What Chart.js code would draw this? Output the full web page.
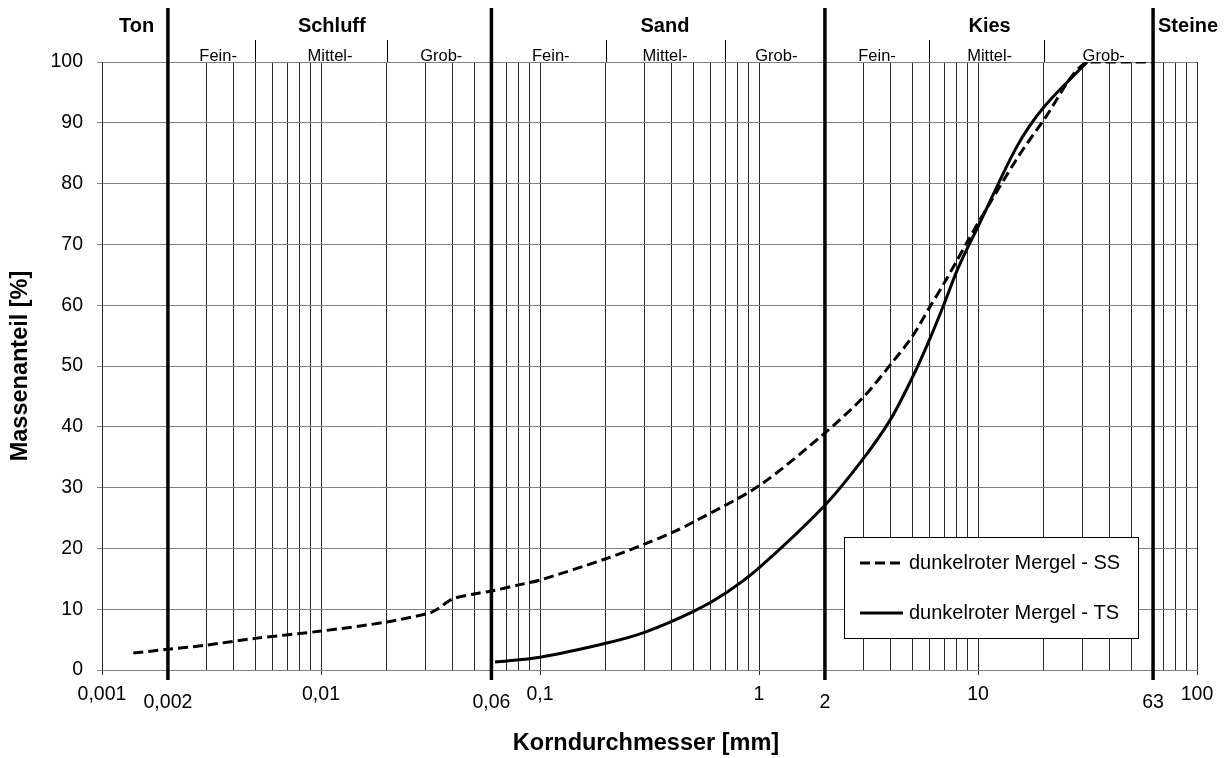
<!DOCTYPE html>
<html>
<head>
<meta charset="utf-8">
<script src="https://cdn.jsdelivr.net/npm/chart.js@4.4.1/dist/chart.umd.min.js"></script>
<style>
  html, body { margin: 0; padding: 0; background: #fff; }
</style>
</head>
<body>
<canvas id="myChart" width="1227" height="758"></canvas>
<script>
const FONT = '"Liberation Sans", Arial, sans-serif'

// Sieblinien (Korndurchmesser in mm, Massenanteil in %)
const seriesNames = ['dunkelroter Mergel - SS', 'dunkelroter Mergel - TS']
const ssX = [0.00139, 0.002, 0.003, 0.005, 0.01, 0.02, 0.0315, 0.034, 0.04, 0.05, 0.06, 0.08, 0.1, 0.2, 0.3, 0.4, 0.5, 1, 2, 3, 4, 5, 6, 7, 8, 9, 10, 15, 20, 31.5, 63]
const ssY = [2.8, 3.4, 4.1, 5.2, 6.4, 7.9, 9.4, 10.0, 11.7, 12.5, 13.0, 14.0, 14.8, 18.3, 20.7, 22.6, 24.3, 30.3, 39.0, 44.9, 50.3, 54.8, 59.6, 63.6, 67.3, 70.6, 73.5, 84.0, 90.5, 100, 100]
const tsX = [0.0623, 0.1, 0.2, 0.3, 0.5, 0.7, 1, 2, 3, 4, 5, 6, 7, 8, 9, 10, 15, 20, 31.5]
const tsY = [1.3, 2.1, 4.4, 6.2, 9.6, 12.6, 16.8, 27.1, 34.8, 41.3, 48.0, 54.3, 60.2, 65.6, 69.6, 72.9, 86.0, 92.6, 100]

// Achsen
const gridX = [0.001, 0.003, 0.004, 0.005, 0.006, 0.007, 0.008, 0.009,
  0.01, 0.02, 0.03, 0.04, 0.05, 0.07, 0.08, 0.09,
  0.1, 0.2, 0.3, 0.4, 0.5, 0.6, 0.7, 0.8, 0.9,
  1, 3, 4, 5, 6, 7, 8, 9,
  10, 20, 30, 40, 50, 70, 80, 90, 100]
const majorX = [0.001, 0.01, 0.1, 1, 10, 100]
const yTicks = [0, 10, 20, 30, 40, 50, 60, 70, 80, 90, 100]
const xLabelValues = [0.001, 0.002, 0.01, 0.06, 0.1, 1, 2, 10, 63, 100]
const xLabels = ['0,001', '0,002', '0,01', '0,06', '0,1', '1', '2', '10', '63', '100']
const xLabelRow = [0, 1, 0, 1, 0, 0, 1, 0, 1, 0]

// Bodenarten
const boundaries = [0.002, 0.06, 2, 63]
const mainClasses = ['Ton', 'Schluff', 'Sand', 'Kies', 'Steine']
const mainClassX = [0.00144, 0.0112, 0.372, 11.3, 91]
const subDividers = [0.005, 0.02, 0.2, 0.7, 6, 20]
const subClasses = ['Fein-', 'Mittel-', 'Grob-', 'Fein-', 'Mittel-', 'Grob-', 'Fein-', 'Mittel-', 'Grob-']
const subClassX = [0.00339, 0.011, 0.0354, 0.112, 0.372, 1.2, 3.46, 11.3, 37.5]

function toPoints(xs, ys) {
  return xs.map((x, i) => ({ x: x, y: ys[i] }))
}

function line(ctx, x1, y1, x2, y2) {
  ctx.beginPath()
  ctx.moveTo(x1, y1)
  ctx.lineTo(x2, y2)
  ctx.stroke()
}

const soilPlugin = {
  id: 'soil',
  beforeDatasetsDraw(chart) {
    const ctx = chart.ctx
    const a = chart.chartArea
    const x = chart.scales.x
    ctx.save()
    ctx.strokeStyle = '#000'
    ctx.lineWidth = 1
    subDividers.forEach(v => {
      const px = Math.round(x.getPixelForValue(v)) + 0.5
      line(ctx, px, 40, px, a.top)
    })
    ctx.lineWidth = 3.5
    boundaries.forEach(v => {
      const px = x.getPixelForValue(v)
      line(ctx, px, 8, px, a.bottom + 10)
    })
    ctx.restore()
  },
  afterDraw(chart) {
    const ctx = chart.ctx
    const x = chart.scales.x
    ctx.save()
    ctx.fillStyle = '#000'
    ctx.textAlign = 'center'
    ctx.textBaseline = 'alphabetic'

    // Kopfzeile
    ctx.font = 'bold 20px ' + FONT
    mainClasses.forEach((t, i) => ctx.fillText(t, x.getPixelForValue(mainClassX[i]), 32))
    ctx.font = '16.5px ' + FONT
    subClasses.forEach((t, i) => ctx.fillText(t, x.getPixelForValue(subClassX[i]), 61))

    // x-Beschriftung
    ctx.font = '19.5px ' + FONT
    xLabels.forEach((t, i) => {
      ctx.fillText(t, x.getPixelForValue(xLabelValues[i]), xLabelRow[i] ? 707.5 : 700)
    })

    // Achsentitel
    ctx.font = 'bold 23.5px ' + FONT
    ctx.fillText('Korndurchmesser [mm]', 646, 750)
    ctx.save()
    ctx.translate(27, 366)
    ctx.rotate(-Math.PI / 2)
    ctx.fillText('Massenanteil [%]', 0, 0)
    ctx.restore()

    // Legende
    ctx.fillStyle = '#fff'
    ctx.fillRect(844, 537, 294, 101)
    ctx.strokeStyle = '#000'
    ctx.lineWidth = 1
    ctx.strokeRect(844.5, 537.5, 294, 101)
    ctx.lineWidth = 3
    ctx.setLineDash([10, 5])
    line(ctx, 860, 563, 905, 563)
    ctx.setLineDash([])
    line(ctx, 860, 613, 903, 613)
    ctx.fillStyle = '#000'
    ctx.textAlign = 'left'
    ctx.font = '20px ' + FONT
    ctx.fillText(seriesNames[0], 909, 569)
    ctx.fillText(seriesNames[1], 909, 619)
    ctx.restore()
  }
}

const ctx = document.getElementById('myChart').getContext('2d')

new Chart(ctx, {
  type: 'line',
  data: {
    datasets: [
      {
        label: seriesNames[0],
        data: toPoints(ssX, ssY),
        borderColor: '#000',
        borderWidth: 3,
        borderDash: [10, 5],
        pointRadius: 0,
        fill: false,
        tension: 0.3,
        clip: 0
      },
      {
        label: seriesNames[1],
        data: toPoints(tsX, tsY),
        borderColor: '#000',
        borderWidth: 3,
        pointRadius: 0,
        fill: false,
        tension: 0.3,
        clip: 0
      }
    ]
  },
  options: {
    responsive: false,
    animation: false,
    devicePixelRatio: 1,
    layout: { padding: { left: 0, right: 30, top: 62, bottom: 0 } },
    plugins: {
      legend: { display: false },
      tooltip: { enabled: false }
    },
    scales: {
      x: {
        type: 'logarithmic',
        min: 0.001,
        max: 100,
        afterBuildTicks: s => { s.ticks = gridX.map(v => ({ value: v })) },
        afterFit: s => { s.height = 88 },
        ticks: { display: false, autoSkip: false },
        grid: {
          color: '#2b2b2b',
          lineWidth: 1,
          tickLength: 5,
          tickColor: c => (c.tick && majorX.includes(c.tick.value)) ? '#2b2b2b' : 'rgba(0,0,0,0)'
        },
        border: { color: '#808080', width: 1 }
      },
      y: {
        min: 0,
        max: 100,
        afterBuildTicks: s => { s.ticks = yTicks.map(v => ({ value: v })) },
        afterFit: s => { s.width = 102 },
        ticks: {
          color: '#000',
          padding: 14,
          font: { family: FONT, size: 19.5 }
        },
        grid: { color: '#808080', lineWidth: 1, tickLength: 5 },
        border: { color: '#2b2b2b', width: 1 }
      }
    }
  },
  plugins: [soilPlugin]
})
</script>
</body>
</html>
